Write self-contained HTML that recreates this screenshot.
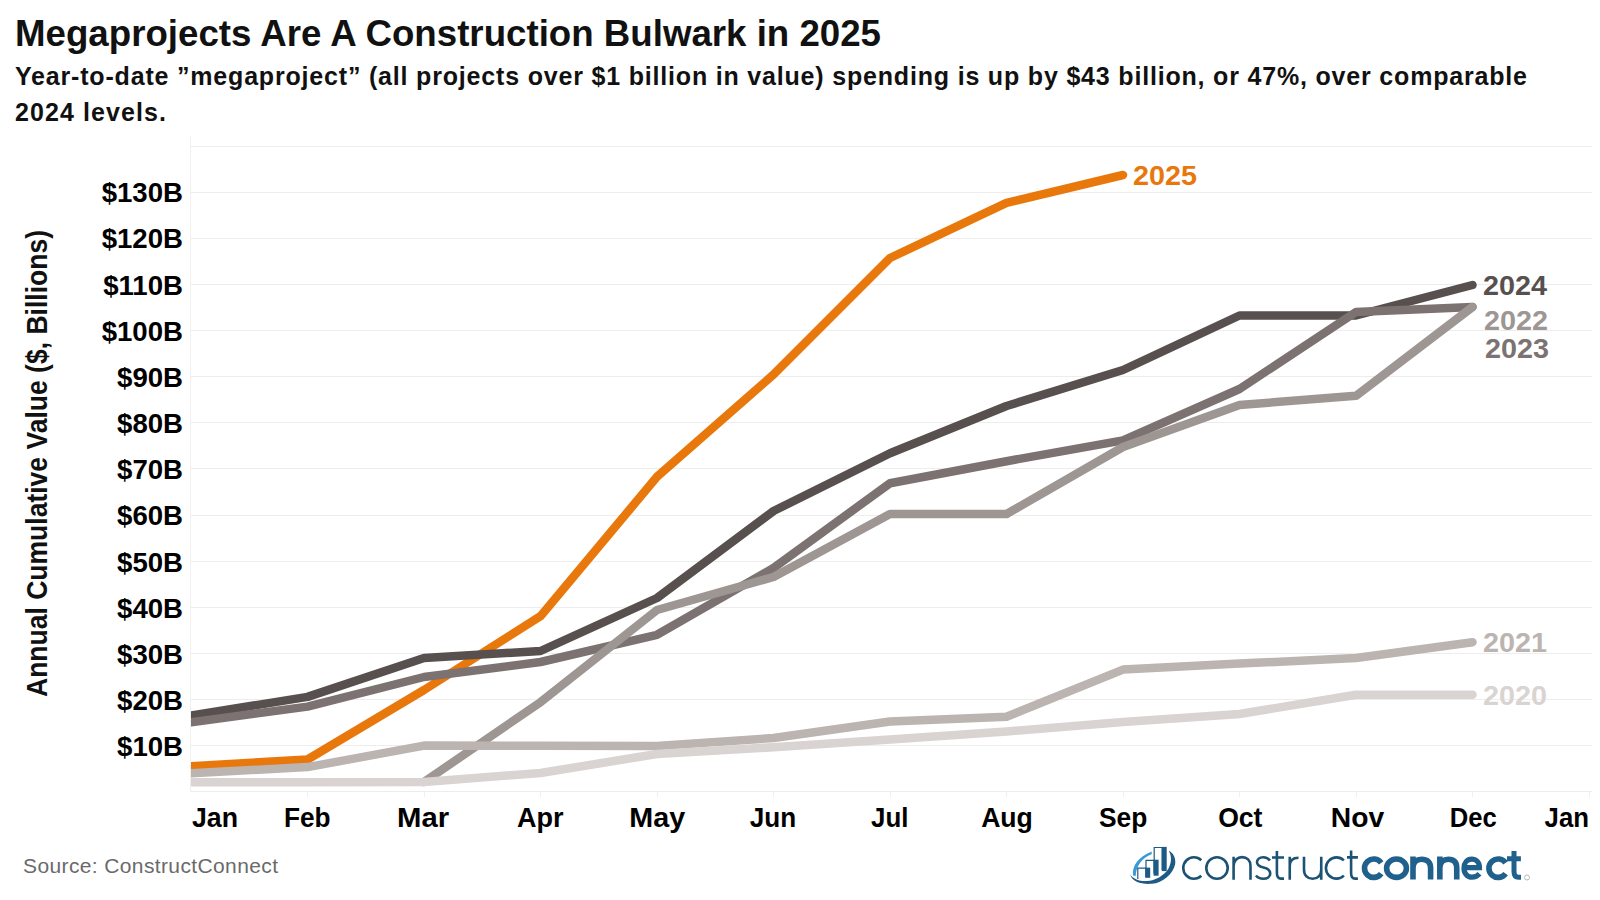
<!DOCTYPE html>
<html><head><meta charset="utf-8"><style>
html,body{margin:0;padding:0;background:#fff;width:1600px;height:900px;overflow:hidden}
svg{display:block}
text{font-family:"Liberation Sans",sans-serif}
.b{font-weight:bold}
</style></head><body>
<svg width="1600" height="900" viewBox="0 0 1600 900">
<rect width="1600" height="900" fill="#fff"/>
<text x="15" y="46" class="b" font-size="36" fill="#111" textLength="866" lengthAdjust="spacingAndGlyphs">Megaprojects Are A Construction Bulwark in 2025</text>
<text x="15" y="84.5" class="b" font-size="25" fill="#111" textLength="1512" lengthAdjust="spacing">Year-to-date ”megaproject” (all projects over $1 billion in value) spending is up by $43 billion, or 47%, over comparable</text>
<text x="15" y="121" class="b" font-size="25" fill="#111" textLength="151" lengthAdjust="spacing">2024 levels.</text>
<rect x="191" y="791" width="1401" height="1" fill="#EDEDED"/><rect x="191" y="745" width="1401" height="1" fill="#EDEDED"/><rect x="191" y="699" width="1401" height="1" fill="#EDEDED"/><rect x="191" y="653" width="1401" height="1" fill="#EDEDED"/><rect x="191" y="607" width="1401" height="1" fill="#EDEDED"/><rect x="191" y="561" width="1401" height="1" fill="#EDEDED"/><rect x="191" y="515" width="1401" height="1" fill="#EDEDED"/><rect x="191" y="468" width="1401" height="1" fill="#EDEDED"/><rect x="191" y="422" width="1401" height="1" fill="#EDEDED"/><rect x="191" y="376" width="1401" height="1" fill="#EDEDED"/><rect x="191" y="330" width="1401" height="1" fill="#EDEDED"/><rect x="191" y="284" width="1401" height="1" fill="#EDEDED"/><rect x="191" y="238" width="1401" height="1" fill="#EDEDED"/><rect x="191" y="192" width="1401" height="1" fill="#EDEDED"/><rect x="191" y="146" width="1401" height="1" fill="#EDEDED"/><rect x="190" y="136" width="1" height="656" fill="#F0F0F0"/><rect x="307" y="792" width="1" height="5" fill="#F0F0F0"/><rect x="424" y="792" width="1" height="5" fill="#F0F0F0"/><rect x="540" y="792" width="1" height="5" fill="#F0F0F0"/><rect x="657" y="792" width="1" height="5" fill="#F0F0F0"/><rect x="773" y="792" width="1" height="5" fill="#F0F0F0"/><rect x="890" y="792" width="1" height="5" fill="#F0F0F0"/><rect x="1006" y="792" width="1" height="5" fill="#F0F0F0"/><rect x="1123" y="792" width="1" height="5" fill="#F0F0F0"/><rect x="1239" y="792" width="1" height="5" fill="#F0F0F0"/><rect x="1356" y="792" width="1" height="5" fill="#F0F0F0"/><rect x="1472" y="792" width="1" height="5" fill="#F0F0F0"/><rect x="1589" y="792" width="1" height="5" fill="#F0F0F0"/>
<clipPath id="cp"><rect x="191" y="100" width="1409" height="720"/></clipPath><g clip-path="url(#cp)"><path d="M191.0,766.2 L307.5,759.5 L424.0,690.0 L540.5,616.2 L657.0,476.8 L773.5,374.5 L890.0,258.0 L1006.5,202.8 L1123.0,175.0" fill="none" stroke="#E8780C" stroke-width="8.5" stroke-linejoin="round" stroke-linecap="round"/><path d="M191.0,715.6 L307.5,696.9 L424.0,658.0 L540.5,651.0 L657.0,598.0 L773.5,511.0 L890.0,453.2 L1006.5,406.0 L1123.0,370.0 L1239.5,315.5 L1356.0,315.5 L1472.5,285.0" fill="none" stroke="#57504F" stroke-width="8.5" stroke-linejoin="round" stroke-linecap="round"/><path d="M191.0,722.2 L307.5,706.6 L424.0,677.0 L540.5,662.0 L657.0,634.8 L773.5,568.0 L890.0,483.2 L1006.5,461.2 L1123.0,440.4 L1239.5,389.0 L1356.0,312.0 L1472.5,307.0" fill="none" stroke="#7B7271" stroke-width="8.5" stroke-linejoin="round" stroke-linecap="round"/><path d="M424.0,782.0 L540.5,702.2 L657.0,610.0 L773.5,577.0 L890.0,514.0 L1006.5,514.0 L1123.0,447.0 L1239.5,405.0 L1356.0,395.8 L1472.5,307.0" fill="none" stroke="#9D9693" stroke-width="8.5" stroke-linejoin="round" stroke-linecap="round"/><path d="M191.0,773.3 L307.5,767.1 L424.0,745.6 L540.5,745.8 L657.0,746.0 L773.5,738.0 L890.0,721.5 L1006.5,716.7 L1123.0,669.6 L1239.5,663.6 L1356.0,658.0 L1472.5,642.2" fill="none" stroke="#BBB4B1" stroke-width="8.5" stroke-linejoin="round" stroke-linecap="round"/><path d="M191.0,782.2 L307.5,782.2 L424.0,782.0 L540.5,773.0 L657.0,754.0 L773.5,747.2 L890.0,739.4 L1006.5,731.5 L1123.0,722.0 L1239.5,714.0 L1356.0,694.8 L1472.5,694.8" fill="none" stroke="#D9D3D1" stroke-width="8.5" stroke-linejoin="round" stroke-linecap="round"/></g>
<text x="183" y="756.1" text-anchor="end" class="b" font-size="27.6">$10B</text><text x="183" y="709.9" text-anchor="end" class="b" font-size="27.6">$20B</text><text x="183" y="663.8" text-anchor="end" class="b" font-size="27.6">$30B</text><text x="183" y="617.6" text-anchor="end" class="b" font-size="27.6">$40B</text><text x="183" y="571.5" text-anchor="end" class="b" font-size="27.6">$50B</text><text x="183" y="525.3" text-anchor="end" class="b" font-size="27.6">$60B</text><text x="183" y="479.1" text-anchor="end" class="b" font-size="27.6">$70B</text><text x="183" y="433.0" text-anchor="end" class="b" font-size="27.6">$80B</text><text x="183" y="386.9" text-anchor="end" class="b" font-size="27.6">$90B</text><text x="183" y="340.7" text-anchor="end" class="b" font-size="27.6">$100B</text><text x="183" y="294.6" text-anchor="end" class="b" font-size="27.6">$110B</text><text x="183" y="248.4" text-anchor="end" class="b" font-size="27.6">$120B</text><text x="183" y="202.3" text-anchor="end" class="b" font-size="27.6">$130B</text>
<text x="215" y="827" text-anchor="middle" class="b" font-size="27.2" textLength="46.06" lengthAdjust="spacingAndGlyphs">Jan</text><text x="307.25" y="827" text-anchor="middle" class="b" font-size="27.2" textLength="46.64" lengthAdjust="spacingAndGlyphs">Feb</text><text x="423.1" y="827" text-anchor="middle" class="b" font-size="27.2" textLength="52.1" lengthAdjust="spacingAndGlyphs">Mar</text><text x="540.15" y="827" text-anchor="middle" class="b" font-size="27.2" textLength="46.5" lengthAdjust="spacingAndGlyphs">Apr</text><text x="657.2" y="827" text-anchor="middle" class="b" font-size="27.2" textLength="55.9" lengthAdjust="spacingAndGlyphs">May</text><text x="772.95" y="827" text-anchor="middle" class="b" font-size="27.2" textLength="46.4" lengthAdjust="spacingAndGlyphs">Jun</text><text x="889.75" y="827" text-anchor="middle" class="b" font-size="27.2" textLength="37.4" lengthAdjust="spacingAndGlyphs">Jul</text><text x="1007" y="827" text-anchor="middle" class="b" font-size="27.2" textLength="51.7" lengthAdjust="spacingAndGlyphs">Aug</text><text x="1123.1" y="827" text-anchor="middle" class="b" font-size="27.2" textLength="48.3" lengthAdjust="spacingAndGlyphs">Sep</text><text x="1240.3" y="827" text-anchor="middle" class="b" font-size="27.2" textLength="44.3" lengthAdjust="spacingAndGlyphs">Oct</text><text x="1357.5" y="827" text-anchor="middle" class="b" font-size="27.2" textLength="53.4" lengthAdjust="spacingAndGlyphs">Nov</text><text x="1473.3" y="827" text-anchor="middle" class="b" font-size="27.2" textLength="47" lengthAdjust="spacingAndGlyphs">Dec</text><text x="1589" y="827" text-anchor="end" class="b" font-size="27.2" textLength="44.4" lengthAdjust="spacingAndGlyphs">Jan</text>
<text transform="translate(47,697) rotate(-90)" class="b" font-size="29" fill="#111" textLength="467" lengthAdjust="spacingAndGlyphs">Annual Cumulative Value ($, Billions)</text>

<text x="1133" y="185" class="b" font-size="28" fill="#E8780C" textLength="64" lengthAdjust="spacingAndGlyphs">2025</text>
<text x="1483" y="295" class="b" font-size="27.6" fill="#57504F" textLength="64" lengthAdjust="spacingAndGlyphs">2024</text>
<text x="1484" y="330" class="b" font-size="27.6" fill="#9D9693" textLength="64" lengthAdjust="spacingAndGlyphs">2022</text>
<text x="1485" y="358" class="b" font-size="27.6" fill="#7B7271" textLength="64" lengthAdjust="spacingAndGlyphs">2023</text>
<text x="1483" y="652" class="b" font-size="27.6" fill="#BBB4B1" textLength="64" lengthAdjust="spacingAndGlyphs">2021</text>
<text x="1483" y="705" class="b" font-size="27.6" fill="#D9D3D1" textLength="64" lengthAdjust="spacingAndGlyphs">2020</text>

<text x="23" y="873" font-size="21" fill="#6A6A6A" textLength="255" lengthAdjust="spacing">Source: ConstructConnect</text>

<g fill="none" stroke="#1C5274" stroke-width="2.6">
<path d="M1201.3,860.2 A10.7,10.7 0 1 0 1201.3,875.8"/>
<circle cx="1217" cy="868" r="10.7"/>
<path d="M1233.6,856.8 V879.8 M1233.6,866 C1233.6,860.5 1237.5,857.1 1242,857.1 C1247,857.1 1250.5,860.5 1250.5,866 V879.8"/>
<path d="M1270,860.5 C1268,857.8 1265.5,857.2 1263.2,857.2 C1259.5,857.2 1257,859.5 1257,862.3 C1257,865.5 1260,866.7 1263.5,867.5 C1267.5,868.4 1270.2,870 1270.2,873.5 C1270.2,876.8 1267.2,878.8 1263.3,878.8 C1260,878.8 1257.5,877.5 1256,875.5"/>
<path d="M1276.9,851 V873 C1276.9,877 1278.5,878.6 1281,878.6 H1284 M1272,857.5 H1284"/>
<path d="M1289.75,856.8 V879.8 M1289.75,866 C1289.75,860.5 1293,857.8 1298.5,857.8"/>
<path d="M1304,856.8 V869.5 C1304,875.5 1307.5,878.7 1312.6,878.7 C1317.7,878.7 1321.25,875.5 1321.25,869.5 M1321.25,856.8 V879.8"/>
<path d="M1343.9,860.4 A10.6,10.6 0 1 0 1343.9,875.6"/>
<path d="M1351.1,850.6 V873 C1351.1,877 1352.8,878.6 1355,878.6 H1357.9 M1347,857.4 H1357.9"/>
</g>
<g fill="none" stroke="#20608C" stroke-width="5.6">
<path d="M1381.2,862.85 A9.2,9.2 0 1 0 1381.2,873.55"/>
<ellipse cx="1396.5" cy="868.2" rx="9.9" ry="9.2"/>
<path d="M1413,879.5 V856.4 M1413,868 C1413,861.5 1417,859.2 1421.5,859.2 C1427,859.2 1430.6,862 1430.6,868 V879.5"/>
<path d="M1439.85,879.5 V856.4 M1439.85,868 C1439.85,861.5 1443.85,859.2 1448.35,859.2 C1453.85,859.2 1456.75,862 1456.75,868 V879.5"/>
<path d="M1464,867.7 H1479.5 C1479.5,862.3 1476,859.2 1471.75,859.2 C1467,859.2 1464,863 1464,868.2 C1464,873.5 1467.5,877.2 1472,877.2 C1475,877.2 1477.5,876 1479.5,873.8" stroke-width="5.2"/>
<path d="M1505.6,862.85 A9.2,9.2 0 1 0 1505.6,873.55"/>
<path d="M1514,851.1 V871.5 C1514,875.8 1516,877.3 1518.5,877.3 H1521 M1507,858.8 H1520.9" stroke-width="5"/>
</g>
<circle cx="1527" cy="877.5" r="2.5" fill="none" stroke="#A0AAB3" stroke-width="0.8"/>
<path d="M1130,874.8 C1133,882 1141,884.5 1151.7,883.8 C1163,883 1173,874 1175.2,864 C1176,858 1173,852.5 1168.7,850.8 C1171.5,855 1172,862 1168.5,868.5 C1164,876 1155,880.5 1147,881 C1140,881.5 1134,879.5 1130,874.8 Z" fill="#1E5A86"/>
<path d="M1133,875.6 C1132,866 1138,857 1151.7,851.6 L1151.7,854.3 C1142,858 1136,866 1135.7,876.1 Z" fill="#3A9AD6"/>
<g stroke="#1E5A86" stroke-width="1.2" fill="#fff">
<path d="M1137.8,879 V868.2 H1146 V877.5"/>
<path d="M1146,876.5 V860.3 H1154.2 V874"/>
<path d="M1154.2,872.5 V847.5 H1162.2 V870"/>
</g>
<g fill="#1E5A86">
<rect x="1145.4" y="867.6" width="4.8" height="10.2"/>
<rect x="1153.6" y="859.7" width="5" height="16"/>
<rect x="1161.8" y="846.9" width="4.9" height="24.2"/>
</g>

</svg>
</body></html>
